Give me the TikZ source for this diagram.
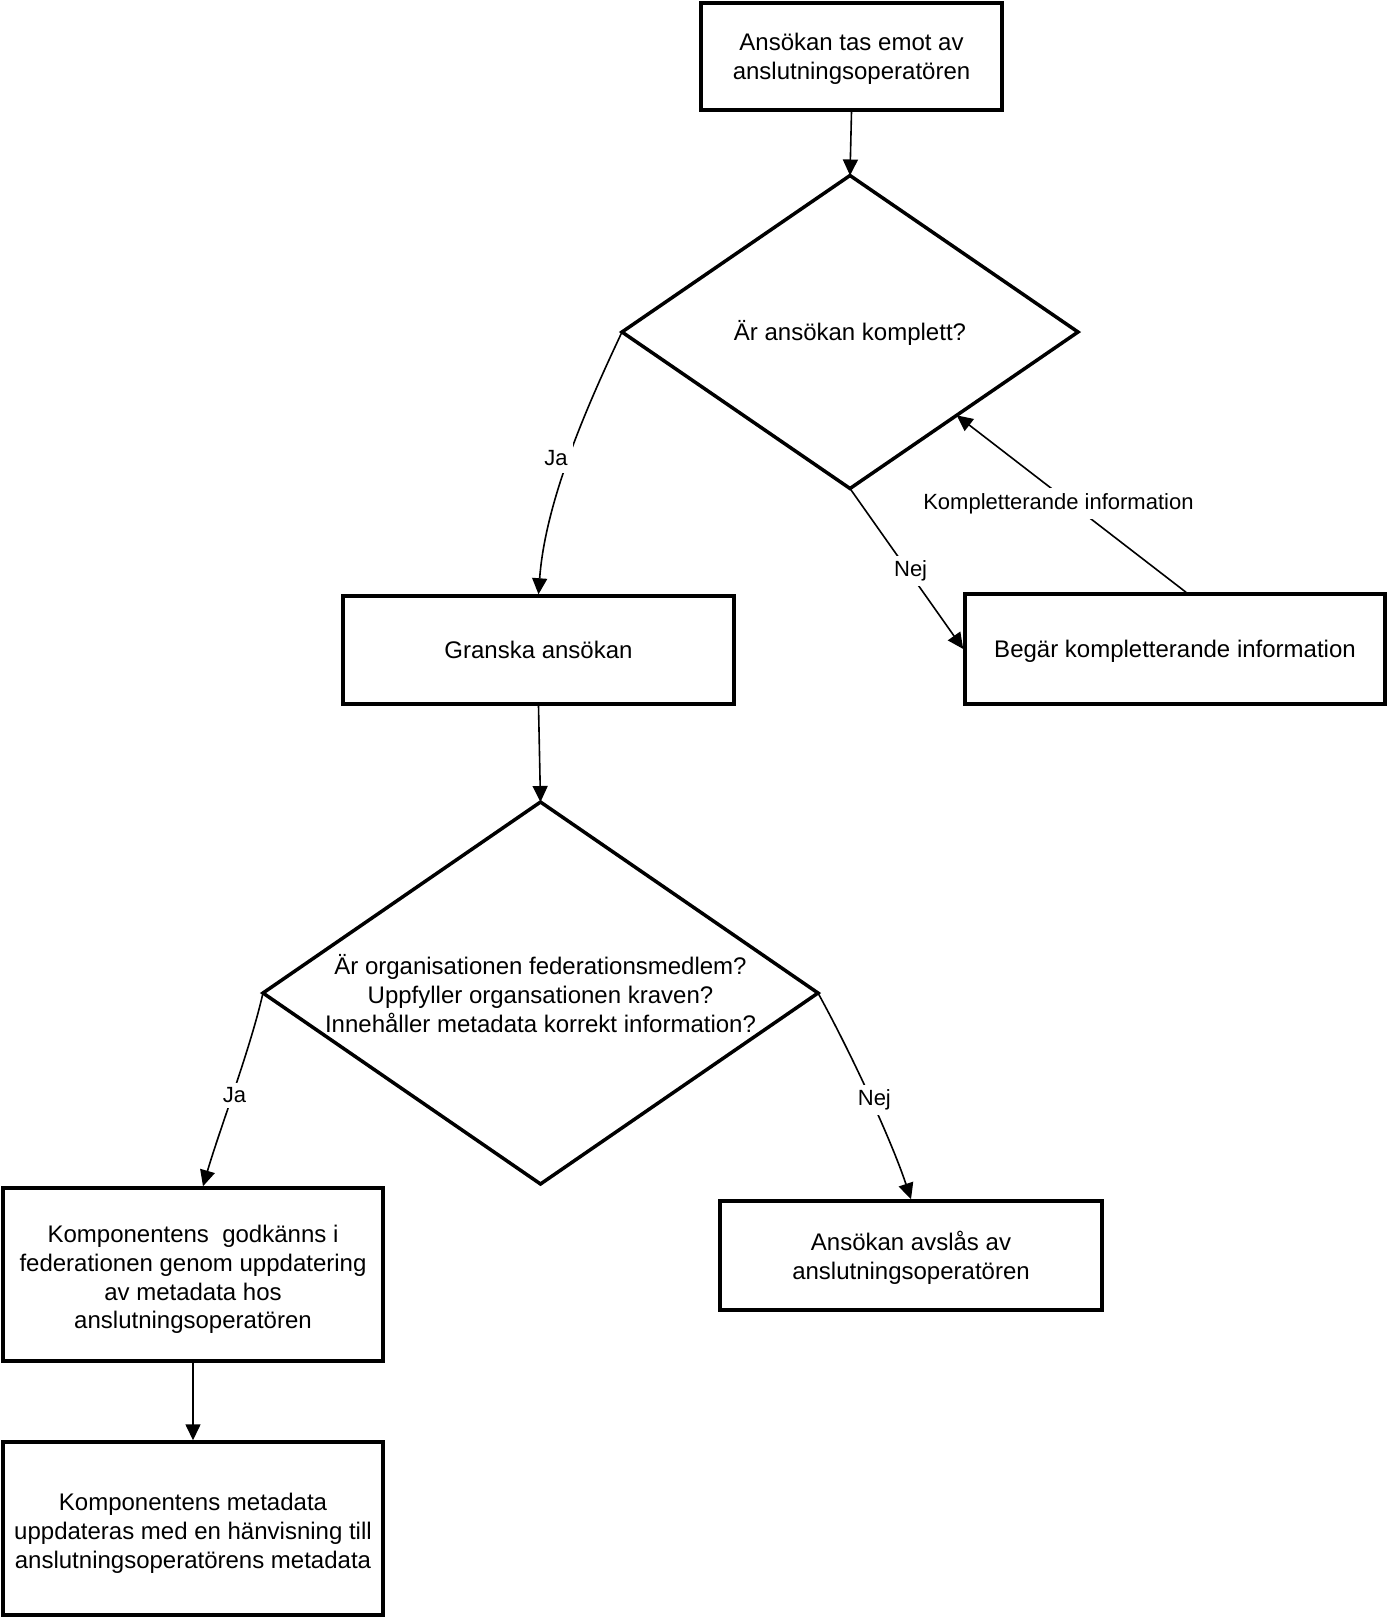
\documentclass[tikz,border=0pt]{standalone}
\usepackage{fontspec}
\setmainfont{Liberation Sans}
\usetikzlibrary{shapes.geometric,arrows.meta,calc}
\tikzset{
  box/.style={draw=black,line width=3.5pt,rectangle,inner sep=0pt},
  boxtext/.style={align=center,inner sep=0pt,font=\fontsize{24}{28.8}\selectfont},
  dia/.style={draw=black,line width=3.5pt,diamond,inner sep=0pt,outer sep=0pt},
  diatext/.style={align=center,inner sep=0pt,font=\fontsize{24}{28.8}\selectfont},
  conn/.style={draw=black,line width=1.6pt,-{Triangle[length=16pt,width=15pt]}},
  lbl/.style={fill=white,inner xsep=3pt,inner ysep=5pt,font=\fontsize{22}{26}\selectfont}
}
\begin{document}
\begin{tikzpicture}[x=1pt,y=-1pt]
\useasboundingbox[fill=white] (0,0) rectangle (1388,1618);
\node[box,minimum width=301pt,minimum height=107pt,
  label={[boxtext,yshift=-2pt]center:Ansökan tas emot av\\anslutningsoperatören}] (t) at (851.5,56.5) {};
\node[dia,minimum width=456pt,minimum height=313pt] (d1) at (850,332) {};
\node[diatext] (d1t) at (850,332.5) {Är ansökan komplett?};
\node[box,minimum width=391pt,minimum height=108pt,
  label={[boxtext]center:Granska ansökan}] (g) at (538.5,650) {};
\node[box,minimum width=420pt,minimum height=110pt,
  label={[boxtext,yshift=-2pt]center:Begär kompletterande information}] (b) at (1175,649) {};
\node[dia,minimum width=555pt,minimum height=382pt] (d2) at (540.5,993) {};
\node[diatext] (d2t) at (540.5,993.5) {Är organisationen federationsmedlem?\\Uppfyller organsationen kraven?\\Innehåller metadata korrekt information?};
\node[box,minimum width=380pt,minimum height=173pt,
  label={[boxtext,yshift=-5pt]center:Komponentens\ \ godkänns i\\federationen genom uppdatering\\av metadata hos\\anslutningsoperatören}] (k1) at (193,1274.5) {};
\node[box,minimum width=380pt,minimum height=173pt,
  label={[boxtext,yshift=-5pt]center:Komponentens metadata\\uppdateras med en hänvisning till\\anslutningsoperatörens metadata}] (k2) at (193,1528.5) {};
\node[box,minimum width=382pt,minimum height=109pt,
  label={[boxtext,yshift=-2pt]center:Ansökan avslås av\\anslutningsoperatören}] (a) at (911,1255.5) {};

\coordinate (bstart) at ($(b.north)+(11,0)$);
\coordinate (k1end) at ($(k1.north)+(10,0)$);

\draw[conn] (t.south) -- (d1.north);
\draw[conn] (d1.west) .. controls +(-32,68) and +(7,-96) .. node[lbl,pos=0.53,xshift=-12pt,yshift=3pt,inner xsep=5pt,inner ysep=8pt] {Ja} (g.north);
\draw[conn] (d1.south) -- node[lbl,pos=0.5,xshift=4pt,yshift=-2pt] {Nej} (b.west);
\draw[conn] (bstart) -- node[lbl,pos=0.53,xshift=-6pt,yshift=-5pt] {Kompletterande information} (d1.-38);
\draw[conn] (g.south) -- (d2.north);
\draw[conn] (d2.west) .. controls +(-13,57) and +(17,-58) .. node[lbl,pos=0.5,yshift=-6pt] {Ja} (k1end);
\draw[conn] (d2.east) .. controls +(33,60) and +(-20,-60) .. node[lbl,pos=0.5,xshift=5pt,yshift=-4pt] {Nej} (a.north);
\draw[conn] (k1.south) -- (k2.north);
\end{tikzpicture}
\end{document}
